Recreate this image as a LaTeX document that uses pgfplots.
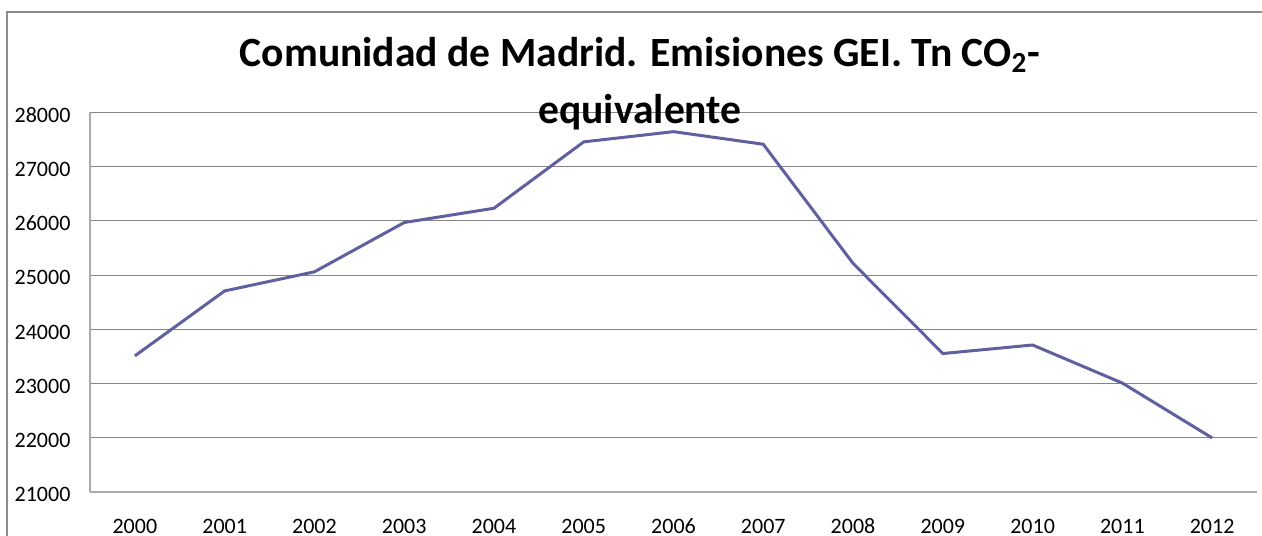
\documentclass[border=0pt]{standalone}
\usepackage{fontspec}
\setmainfont{Carlito}
\usepackage{pgfplots}
\pgfplotsset{compat=1.18}
\definecolor{linec}{RGB}{96,96,160}
\definecolor{gridc}{RGB}{134,134,134}
\definecolor{axisc}{RGB}{170,170,170}
\definecolor{framec}{RGB}{140,140,140}
\begin{document}
\begin{tikzpicture}
\path[use as bounding box] (0,0) rectangle (631pt,267.5pt);
\draw[framec, line width=1pt] (3.7pt,-5pt) -- (3.7pt,261.4pt) -- (640pt,261.4pt);
\begin{axis}[
  at={(45pt,21.5pt)}, anchor=south west,
  scale only axis, width=583.5pt, height=189.85pt,
  xmin=-0.5, xmax=12.5, ymin=21000, ymax=28000,
  xtick={0,1,2,3,4,5,6,7,8,9,10,11,12},
  xticklabels={2000,2001,2002,2003,2004,2005,2006,2007,2008,2009,2010,2011,2012},
  ytick={21000,22000,23000,24000,25000,26000,27000,28000},
  scaled y ticks=false,
  yticklabel style={/pgf/number format/1000 sep={}},
  axis x line*=bottom, axis y line*=left,
  axis line style={axisc, line width=1pt, -},
  major tick length=0pt,
  ymajorgrids, major grid style={gridc, line width=0.5pt},
  tick label style={font=\fontsize{11}{13}\selectfont, inner sep=0pt},
  xticklabel style={anchor=base, yshift=-20.7pt},
  yticklabel style={xshift=-9.6pt, yshift=-1.4pt},
  /pgf/number format/assume math mode=true,
  clip=false,
]
\addplot[linec, line width=1.5pt] coordinates {
(0,23510) (1,24707) (2,25059) (3,25968) (4,26231) (5,27455) (6,27643)
(7,27411) (8,25215) (9,23553) (10,23710) (11,23008) (12,21997)
};
\end{axis}
\node[font=\fontsize{20.8}{25}\selectfont\bfseries, anchor=base] at (320pt,234.2pt) {Comunidad de Madrid. Emisiones GEI. Tn CO\textsubscript{2}-};
\node[font=\fontsize{20.8}{25}\selectfont\bfseries, anchor=base] at (320pt,205.8pt) {equivalente};
\end{tikzpicture}
\end{document}
